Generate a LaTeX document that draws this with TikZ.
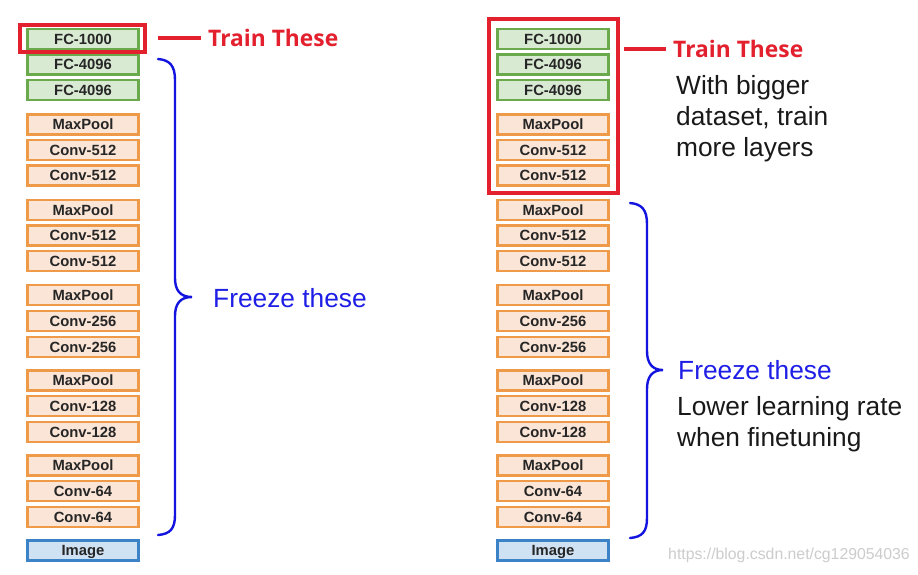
\documentclass[tikz,border=0pt]{standalone}
\usepackage{fontspec}
\setmainfont{Liberation Sans}
\newfontfamily\headfont{Open Sans}
\definecolor{fcfill}{HTML}{D9EAD3}
\definecolor{fcdraw}{HTML}{6AAA4C}
\definecolor{cvfill}{HTML}{FBE5D6}
\definecolor{cvdraw}{HTML}{EE9A48}
\definecolor{imfill}{HTML}{CFE2F3}
\definecolor{imdraw}{HTML}{3C82C6}
\definecolor{trainred}{HTML}{E3202E}
\definecolor{freezeblue}{HTML}{1E1EE6}
\definecolor{bracecol}{HTML}{1414E0}
\begin{document}
\begin{tikzpicture}[x=1pt,y=-1pt,
  layer/.style={draw=\dc, fill=\fc, line width=2.6pt, minimum width=111pt, minimum height=20pt,
    inner sep=0pt, text height=10.5pt, text depth=0pt, font=\bfseries\fontsize{14.8}{14.8}\selectfont, text=black!85},
  redbox/.style={draw=trainred, line width=4pt, inner sep=0pt},
  redline/.style={draw=trainred, line width=4pt},
  trainlabel/.style={anchor=west, inner sep=0pt, text=trainred, font=\headfont\bfseries\fontsize{22.8}{22.8}\selectfont},
  freezelabel/.style={anchor=west, inner sep=0pt, text=freezeblue, font=\fontsize{26.3}{26.3}\selectfont},
  note/.style={anchor=west, inner sep=0pt, align=left, text=black!90, font=\fontsize{26.3}{31}\selectfont},
  brace/.style={draw=bracecol, line width=2.4pt, line cap=round}]
\useasboundingbox (0,0) rectangle (918,574);
\fill[white] (0,0) rectangle (918,574);
% layers
\foreach \n/\y/\t/\dc/\fc in {1/39/FC-1000/fcdraw/fcfill, 2/64.5/FC-4096/fcdraw/fcfill, 3/90/FC-4096/fcdraw/fcfill,
  4/124.5/MaxPool/cvdraw/cvfill, 5/150/Conv-512/cvdraw/cvfill, 6/175.5/Conv-512/cvdraw/cvfill,
  7/210/MaxPool/cvdraw/cvfill, 8/235.5/Conv-512/cvdraw/cvfill, 9/261/Conv-512/cvdraw/cvfill,
  10/295/MaxPool/cvdraw/cvfill, 11/321/Conv-256/cvdraw/cvfill, 12/347/Conv-256/cvdraw/cvfill,
  13/380.5/MaxPool/cvdraw/cvfill, 14/406/Conv-128/cvdraw/cvfill, 15/432/Conv-128/cvdraw/cvfill,
  16/465.5/MaxPool/cvdraw/cvfill, 17/491/Conv-64/cvdraw/cvfill, 18/517/Conv-64/cvdraw/cvfill,
  19/550.5/Image/imdraw/imfill}{
  \node[layer] (L\n) at (83,\y) {\t};
  \node[layer] (R\n) at (553,\y) {\t};
}
% left: train box
\node[redbox, minimum width=125pt, minimum height=27pt] (LR) at (82.5,38.5) {};
\coordinate (LA) at (158,38);
\node[trainlabel] (LT) at (208,38) {Train These};
\draw[redline] (LA) -- ([xshift=-7pt]LT.west);
% left brace
\draw[brace] (158,59) .. controls (170,60) and (175,66) .. (175,80) -- (175,278)
  .. controls (175,290) and (180,297) .. (192,297)
  .. controls (180,297) and (175,304) .. (175,316) -- (175,515)
  .. controls (175,529) and (170,534) .. (158,535);
\node[freezelabel] (LF) at (213,298) {Freeze these};
% right: train box
\node[redbox, minimum width=129pt, minimum height=174pt] (RR) at (553.5,106) {};
\coordinate (RA) at (624,49);
\node[trainlabel] (RT) at (673,49) {Train These};
\draw[redline] (RA) -- ([xshift=-7pt]RT.west);
\node[note] (RN) at (676,119) {With bigger\\dataset, train\\more layers};
% right brace
\draw[brace] (630,203) .. controls (642,204) and (647,210) .. (647,224) -- (647,351)
  .. controls (647,363) and (652,370) .. (663,370)
  .. controls (652,370) and (647,377) .. (647,389) -- (647,518)
  .. controls (647,532) and (642,537) .. (630,538);
\node[freezelabel] (RF) at (678,370) {Freeze these};
\node[note] (RL) at (677,424) {Lower learning rate\\when finetuning};
% watermark
\node[anchor=east, inner sep=0pt, text=black!20, font=\fontsize{15.8}{15.8}\selectfont] (WM) at (910,555) {https://blog.csdn.net/cg129054036};
\end{tikzpicture}
\end{document}
